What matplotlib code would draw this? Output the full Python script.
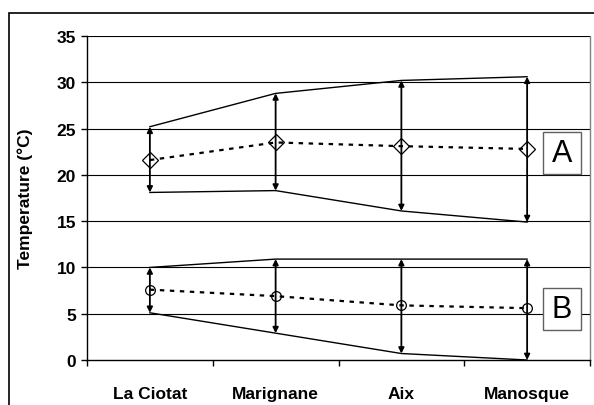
import matplotlib
matplotlib.use("Agg")
import matplotlib.pyplot as plt
from matplotlib.patches import Rectangle

plt.rcParams['font.family'] = ['Liberation Sans', 'DejaVu Sans']

categories = ["La Ciotat", "Marignane", "Aix", "Manosque"]
a_upper = [25.2, 28.8, 30.2, 30.6]
a_lower = [18.1, 18.3, 16.1, 14.9]
a_mean = [21.6, 23.5, 23.1, 22.8]
b_upper = [10.0, 10.9, 10.9, 10.9]
b_lower = [5.1, 2.9, 0.7, 0.0]
b_mean = [7.6, 6.9, 5.9, 5.6]
yticks = [0, 5, 10, 15, 20, 25, 30, 35]

W, H = 594, 406
fig = plt.figure(figsize=(W / 100, H / 100), dpi=100)
# outer frame (clipped at right and bottom)
fig.patches.append(Rectangle((9 / W, -0.05), 1.2, (H - 14) / H + 0.05, transform=fig.transFigure,
                             fill=False, edgecolor='black', linewidth=1.2, figure=fig))

ax = fig.add_axes([87 / W, (H - 361) / H, (590 - 87) / W, (361 - 37) / H])
x = list(range(len(categories)))
ax.set_xlim(-0.5, len(categories) - 0.5)
ax.set_ylim(0, 35)
ax.set_yticks(yticks)
ax.set_yticklabels([str(t) for t in yticks], fontsize=12.5, fontweight='bold')
ax.set_xticks(x)
ax.set_xticklabels(categories, fontsize=12.5, fontweight='bold')
ax.tick_params(axis='x', length=0, pad=19)
ax.set_xticks([i + 0.5 for i in range(-1, len(categories))], minor=True)
ax.tick_params(axis='x', which='minor', length=4, width=1, direction='out')
ax.tick_params(axis='y', length=4, width=1, direction='out', pad=4)
for t in yticks[1:]:
    ax.axhline(t, color='black', linewidth=0.8, zorder=1)
ax.spines['left'].set_linewidth(1.0)
ax.spines['bottom'].set_linewidth(1.0)
ax.spines['top'].set_visible(False)
ax.spines['right'].set_color('#808080')
ax.spines['right'].set_linewidth(1.0)
ax.set_ylabel("Temperature (°C)", fontsize=12.5, fontweight='bold')
ax.yaxis.set_label_coords((33 - 87) / (590 - 87), 0.5)

for up, lo, mean, mk in [(a_upper, a_lower, a_mean, 'D'), (b_upper, b_lower, b_mean, 'o')]:
    ax.plot(x, up, color='black', linewidth=1.0, zorder=3)
    ax.plot(x, lo, color='black', linewidth=1.0, zorder=3)
    ax.plot(x, mean, color='black', linewidth=1.6, linestyle=(0, (2.0, 2.5)), zorder=4,
            marker=mk, markersize=8 if mk == 'D' else 7, markerfacecolor='none',
            markeredgecolor='black', markeredgewidth=0.9)
    for xi, u, l in zip(x, up, lo):
        ax.annotate('', xy=(xi, u), xytext=(xi, l),
                    arrowprops=dict(arrowstyle='<|-|>', color='black', lw=1.3,
                                    mutation_scale=8, shrinkA=0, shrinkB=0), zorder=5)

for label, y0, y1 in [("A", 133, 175), ("B", 289, 331)]:
    fig.patches.append(Rectangle((543 / W, (H - y1) / H), 38 / W, (y1 - y0) / H,
                                 transform=fig.transFigure, facecolor='white',
                                 edgecolor='#606060', linewidth=1.0, figure=fig, zorder=10))
    fig.text(562 / W, (H - (y0 + y1) / 2) / H, label, fontsize=22, ha='center', va='center',
             zorder=11)

fig.savefig("out.png", dpi=100)
